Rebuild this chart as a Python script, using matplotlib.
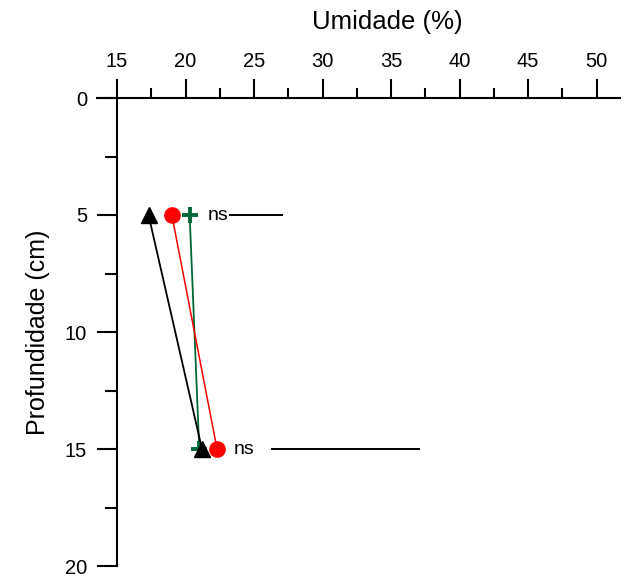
import numpy as np
import matplotlib.pyplot as plt
from matplotlib.ticker import MultipleLocator

plt.rcParams['font.family'] = ['Liberation Sans', 'DejaVu Sans']

# Profundidade (cm) e umidade (%) para os três tratamentos
depth = [5, 15]
umid_triangle = [17.3, 21.2]   # preto
umid_circle = [19.0, 22.3]     # vermelho
umid_plus = [20.3, 21.0]       # verde

# barras de DMS (ns) por profundidade: posição do texto e extremos da barra
ns_depth = [5, 15]
ns_text_x = [21.6, 23.5]
ns_bar_start = [23.2, 26.2]
ns_bar_end = [27.1, 37.1]

fig = plt.figure(figsize=(6.31, 5.76), dpi=100)
ax = fig.add_axes([97 / 631, 1 - 566 / 576, 523 / 631, 468 / 576])

ax.plot(umid_plus, depth, color='#006837', lw=1.3, marker='+', ms=12, mew=2.8, zorder=3)
ax.plot(umid_triangle, depth, color='black', lw=1.3, marker='^', ms=11, zorder=4)
ax.plot(umid_circle, depth, color='red', lw=1.1, marker='o', ms=11, zorder=5)

for d, tx, x0, x1 in zip(ns_depth, ns_text_x, ns_bar_start, ns_bar_end):
    ax.text(tx, d, 'ns', fontsize=14, va='center', ha='left')
    ax.hlines(d, x0, x1, color='black', lw=1.4)

ax.set_xlim(13.54, 51.7)
ax.set_ylim(20, 0)

ax.spines['right'].set_visible(False)
ax.spines['bottom'].set_visible(False)
ax.spines['left'].set_position(('data', 15))
for s in ('top', 'left'):
    ax.spines[s].set_linewidth(1.5)

ax.xaxis.set_ticks_position('top')
ax.xaxis.set_major_locator(MultipleLocator(5))
ax.xaxis.set_minor_locator(MultipleLocator(2.5))
ax.set_xticks(np.arange(15, 55, 5))
ax.yaxis.set_major_locator(MultipleLocator(5))
ax.yaxis.set_minor_locator(MultipleLocator(2.5))

ax.tick_params(axis='x', which='major', direction='out', length=13.5, width=1.5,
               labelsize=14.5, pad=6)
ax.tick_params(axis='x', which='minor', direction='out', length=7, width=1.5)
ax.tick_params(axis='y', which='major', direction='out', length=14.5, width=1.5,
               labelsize=14.5, pad=7)
ax.tick_params(axis='y', which='minor', direction='out', length=8.5, width=1.5)

fig.text(387 / 631, 1 - 22 / 576, 'Umidade (%)', fontsize=18.5, ha='center', va='center')
fig.text(38 / 631, 1 - 332 / 576, 'Profundidade (cm)', fontsize=18, ha='center',
         va='center', rotation=90)

fig.savefig('out.png', dpi=100)
